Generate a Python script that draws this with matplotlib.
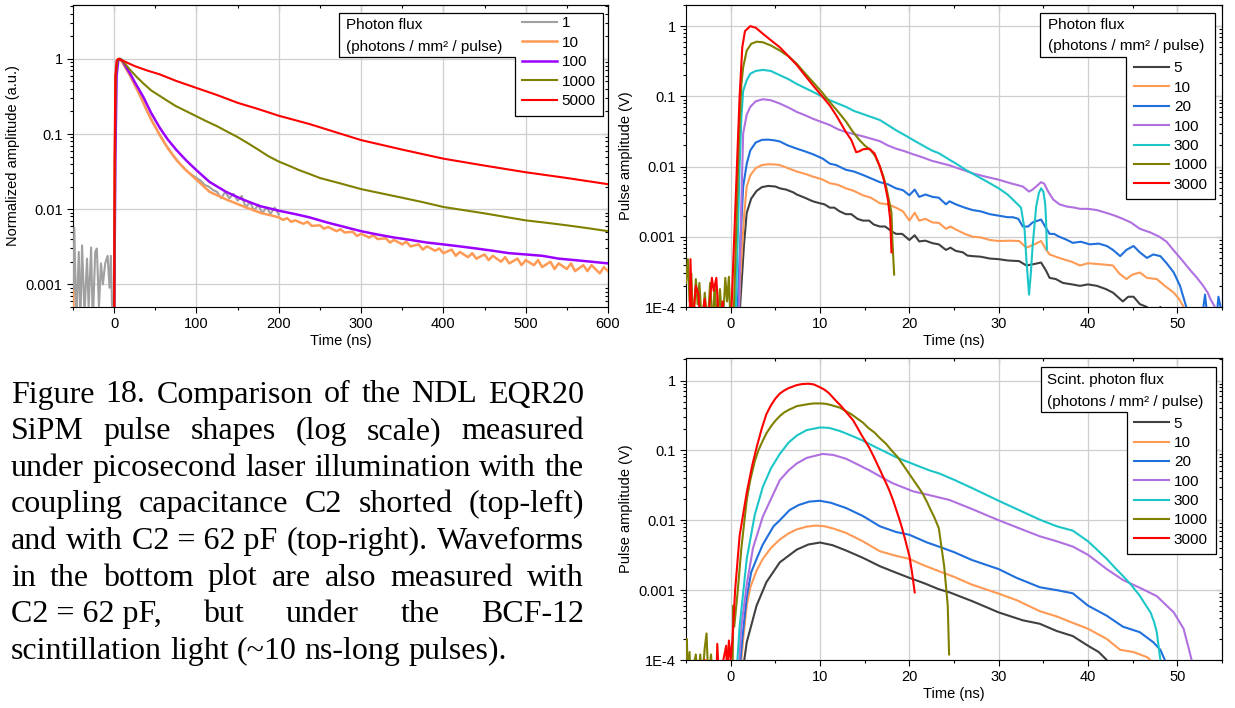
import numpy as np
import matplotlib
matplotlib.use("Agg")
import matplotlib.pyplot as plt
from matplotlib.patches import Polygon
from matplotlib.ticker import LogLocator, MultipleLocator, NullFormatter

plt.rcParams['font.family'] = ['Liberation Sans', 'DejaVu Sans']

# ---------------- data: picosecond laser, C2 shorted (top-left) -------------
laser_flux = ["1", "10", "100", "1000", "5000"]
laser_colors = ["#a0a0a0", "#ff9a55", "#9b00ff", "#808000", "#ff0000"]

laser_1 = [(-50, 3e-4), (-48.4, 0.0057), (-46, 3e-4), (-43, 0.0027), (-41, 3e-4), (-39, 0.0033),
           (-36, 4e-4), (-33, 0.0022), (-31, 5e-4), (-28, 0.0031), (-26, 3e-4), (-23, 0.0027),
           (-21, 0.0030), (-18.5, 5e-4), (-16, 0.0019), (-13.7, 0.0010), (-10.9, 0.0019),
           (-8, 0.0024), (-5.6, 9e-4), (-4, 0.0024), (-2, 3e-4), (0, 3e-4), (1, 0.05), (2, 0.6),
           (4, 0.95), (6, 1.0), (10, 0.9), (20, 0.58), (30, 0.35), (40, 0.2), (50, 0.125),
           (60, 0.08), (70, 0.055), (80, 0.04), (90, 0.031), (100, 0.026), (105, 0.024),
           (110, 0.021), (115, 0.020), (120, 0.018), (125, 0.017), (130, 0.014), (135, 0.017),
           (140, 0.014), (145, 0.016), (150, 0.013), (155, 0.015), (160, 0.0105), (165, 0.0125),
           (170, 0.0095), (175, 0.0115), (180, 0.0088), (185, 0.0106), (190, 0.0087),
           (195, 0.0105), (200, 0.0085)]
laser_10 = [(-50, 8e-4), (-49.5, 3e-4), (0, 3e-4), (1, 0.05), (2, 0.6), (4, 0.95), (6, 1.0),
            (10, 0.9), (20, 0.58), (30, 0.35), (35.5, 0.26), (45, 0.155), (55.6, 0.096),
            (65, 0.065), (75.8, 0.045), (86, 0.034), (96, 0.027), (116, 0.017), (136, 0.0135),
            (156, 0.011), (177, 0.009), (200, 0.0078), (205, 0.0072), (210, 0.0076),
            (215, 0.0068), (220, 0.0071), (230, 0.0064), (235, 0.0068), (240, 0.0060),
            (250, 0.0061), (255, 0.0055), (260, 0.0058), (270, 0.0051), (275, 0.0054),
            (280, 0.0049), (290, 0.0050), (295, 0.0044), (300, 0.0047), (310, 0.0042),
            (315, 0.0045), (320, 0.0040), (330, 0.0041), (335, 0.0036), (340, 0.0039),
            (350, 0.0034), (355, 0.0037), (360, 0.0032), (370, 0.0034), (375, 0.0029),
            (380, 0.0032), (390, 0.0028), (395, 0.0030), (400, 0.0026), (410, 0.0029),
            (415, 0.0024), (420, 0.0027), (430, 0.0023), (435, 0.0026), (440, 0.0022),
            (450, 0.0025), (455, 0.0021), (460, 0.0024), (470, 0.0020), (475, 0.0023),
            (480, 0.0019), (490, 0.0022), (495, 0.0018), (500, 0.0021), (510, 0.0018),
            (515, 0.0021), (520, 0.0017), (530, 0.0020), (535, 0.0016), (540, 0.0019),
            (550, 0.0016), (555, 0.0019), (560, 0.0015), (570, 0.0018), (575, 0.0015),
            (580, 0.0018), (590, 0.0014), (595, 0.0017), (600, 0.0015)]
laser_100 = [(0, 3e-4), (1.5, 0.05), (3, 0.6), (5, 0.95), (7, 1.0), (10, 0.95), (15, 0.76),
             (20, 0.62), (25, 0.49), (35.5, 0.31), (45, 0.19), (55.6, 0.12), (65, 0.085),
             (75.8, 0.061), (88, 0.044), (100, 0.033), (116, 0.023), (136, 0.017),
             (156, 0.0135), (177, 0.011), (201, 0.0095), (220, 0.0086), (237, 0.0078),
             (260, 0.0066), (280, 0.0058), (300, 0.0051), (320, 0.0046), (340, 0.0042),
             (360, 0.0039), (380, 0.0036), (400, 0.0034), (420, 0.0032), (440, 0.0030),
             (460, 0.0028), (480, 0.0026), (500, 0.0025), (520, 0.0024), (540, 0.0022),
             (560, 0.0021), (580, 0.0020), (600, 0.0019)]
laser_1000 = [(0, 3e-4), (1, 0.05), (2, 0.6), (4, 0.95), (7, 1.0), (10, 0.95), (19, 0.72),
              (27, 0.58), (35.5, 0.47), (45, 0.38), (55.6, 0.32), (65, 0.275), (75, 0.235),
              (88, 0.2), (100, 0.172), (112, 0.148), (125, 0.127), (137, 0.108), (150, 0.091),
              (162, 0.076), (175, 0.062), (187, 0.051), (200, 0.043), (212, 0.038),
              (225, 0.033), (237, 0.0295), (250, 0.026), (262, 0.024), (275, 0.022),
              (300, 0.0185), (325, 0.0162), (350, 0.0142), (375, 0.0124), (400, 0.0107),
              (425, 0.0097), (450, 0.0088), (475, 0.0079), (500, 0.0071), (525, 0.0066),
              (550, 0.0061), (575, 0.0056), (600, 0.0051)]
laser_5000 = [(0, 3e-4), (0.5, 0.05), (1.5, 0.6), (3, 0.95), (5, 1.0), (10, 0.95), (25, 0.80),
              (40, 0.7), (55.6, 0.62), (75, 0.51), (100, 0.41), (125, 0.33), (150, 0.26),
              (175, 0.215), (200, 0.175), (237, 0.136), (270, 0.105), (300, 0.083), (350, 0.062),
              (400, 0.047), (450, 0.038), (500, 0.031), (550, 0.026), (600, 0.0215)]
laser_series = [laser_1, laser_10, laser_100, laser_1000, laser_5000]

# ---------------- data: picosecond laser, C2 = 62 pF (top-right) ------------
flux_62 = ["5", "10", "20", "100", "300", "1000", "3000"]
colors_62 = ["#404040", "#ff9a55", "#1f6fdc", "#b070e0", "#1cc6c8", "#808000", "#ff0000"]

las62_5 = [(0.9, 5e-5), (1.2, 2e-4), (1.5, 8e-4), (1.8, 0.0022), (2.3, 0.0035), (2.9, 0.0045),
           (3.5, 0.0051), (4.2, 0.0053), (5.0, 0.0052), (5.5, 0.0049), (6.2, 0.0047),
           (7.0, 0.0043), (7.4, 0.0040), (8.3, 0.0036), (9.2, 0.0032), (10.0, 0.0030),
           (10.5, 0.0029), (11.1, 0.0026), (11.6, 0.0026), (12.2, 0.0023), (12.9, 0.0021),
           (13.5, 0.0021), (14.2, 0.0018), (14.8, 0.0017), (15.5, 0.0017), (16.0, 0.0015),
           (16.7, 0.0014), (17.3, 0.0014), (18.0, 0.0012), (18.5, 0.0011), (19.2, 0.0011),
           (20.0, 0.00090), (20.6, 0.00105), (21.1, 0.00086), (21.8, 0.00088), (22.6, 0.00081),
           (23.3, 0.00078), (24.1, 0.00065), (24.6, 0.00070), (25.2, 0.00063), (26.0, 0.00060),
           (26.5, 0.00054), (27.1, 0.00053), (28.0, 0.00052), (29.0, 0.00049), (30.0, 0.00048),
           (31.0, 0.00046), (32.3, 0.00045), (33.1, 0.00039), (34.0, 0.00041), (34.75, 0.00043),
           (35.3, 0.00033), (35.7, 0.00026), (36.4, 0.00025), (37.2, 0.00022), (38.2, 0.00021),
           (39.1, 0.00020), (40.0, 0.00021), (41.0, 0.00020), (42.0, 0.00018), (42.8, 0.00016),
           (43.9, 0.00012), (44.5, 0.00014), (45.1, 0.00014), (45.8, 0.00011), (46.6, 0.00010),
           (47.3, 8e-5), (48.1, 1.0e-4), (48.5, 6e-5)]
las62_10 = [(0.8, 5e-5), (1.1, 3e-4), (1.5, 0.002), (1.8, 0.0052), (2.2, 0.0075), (2.8, 0.0095),
            (3.5, 0.0105), (4.2, 0.0108), (5.0, 0.0107), (5.5, 0.0105), (6.4, 0.0095),
            (7.4, 0.0085), (8.3, 0.0079), (9.2, 0.0072), (10.2, 0.0066), (11.1, 0.0058),
            (12.0, 0.0055), (12.9, 0.0049), (13.8, 0.0045), (14.8, 0.0039), (15.7, 0.0036),
            (16.7, 0.0030), (17.6, 0.0029), (18.5, 0.0026), (19.3, 0.0023), (20.0, 0.0017),
            (20.6, 0.0022), (21.1, 0.0017), (21.8, 0.0018), (22.6, 0.0016), (23.3, 0.00158),
            (24.1, 0.0013), (24.6, 0.0014), (25.2, 0.00127), (26.2, 0.0011), (27.1, 0.0010),
            (28.0, 0.00098), (29.0, 0.00090), (30.0, 0.00087), (31.2, 0.00088), (32.3, 0.00087),
            (33.1, 0.00070), (34.0, 0.00078), (34.75, 0.00087), (35.3, 0.00066), (35.7, 0.00056),
            (36.4, 0.00052), (37.2, 0.00048), (38.2, 0.00044), (39.1, 0.00039), (40.0, 0.00042),
            (41.0, 0.00041), (42.0, 0.00040), (42.8, 0.00039), (43.5, 0.00030), (44.3, 0.00025),
            (45.0, 0.00029), (45.8, 0.00031), (46.6, 0.00026), (47.7, 0.00025), (48.6, 0.00020),
            (49.6, 0.00016), (50.2, 0.00013), (50.7, 0.00010), (51.0, 6e-5)]
las62_20 = [(0.7, 5e-5), (1.0, 5e-4), (1.4, 0.0052), (1.8, 0.011), (2.2, 0.017), (2.8, 0.022),
            (3.5, 0.024), (4.2, 0.0242), (5.0, 0.0235), (5.5, 0.0228), (6.4, 0.020), (7.4, 0.018),
            (8.3, 0.0165), (9.2, 0.015), (10.3, 0.013), (11.1, 0.011), (11.8, 0.0105),
            (12.9, 0.009), (13.8, 0.0085), (14.8, 0.0076), (15.7, 0.0068), (16.7, 0.006),
            (17.6, 0.0056), (18.5, 0.0049), (19.3, 0.0046), (20.0, 0.0039), (20.6, 0.0047),
            (21.1, 0.0037), (21.8, 0.0040), (22.6, 0.0037), (23.3, 0.0036), (24.1, 0.0029),
            (24.5, 0.0032), (25.2, 0.0029), (26.2, 0.0026), (27.1, 0.0024), (28.0, 0.0023),
            (29.0, 0.0021), (30.0, 0.0020), (31.0, 0.0019), (31.6, 0.0019), (32.2, 0.0018),
            (32.7, 0.0014), (33.3, 0.0014), (33.8, 0.0016), (34.75, 0.00176), (35.2, 0.0014),
            (35.7, 0.0011), (36.2, 0.0011), (36.8, 0.0010), (37.5, 0.00092), (38.3, 0.00082),
            (39.2, 0.00085), (40.2, 0.00078), (41.2, 0.00080), (42.1, 0.00074), (42.8, 0.00065),
            (43.6, 0.00053), (44.3, 0.00065), (45.1, 0.00074), (45.8, 0.00060), (46.6, 0.00050),
            (47.3, 0.00056), (48.1, 0.00053), (48.8, 0.00042), (49.6, 0.00031), (50.3, 0.00020),
            (51.0, 0.00010), (51.4, 5e-5), (52.6, 5e-5), (53.1, 1.5e-4), (53.5, 5e-5),
            (54.3, 5e-5), (54.6, 1.4e-4), (55.0, 8e-5)]
las62_100 = [(0.9, 5e-5), (1.1, 0.001), (1.4, 0.03), (1.8, 0.055), (2.2, 0.071), (2.8, 0.085),
             (3.6, 0.091), (4.5, 0.088), (5.5, 0.079), (6.5, 0.069), (7.4, 0.060), (8.3, 0.054),
             (9.2, 0.048), (10.2, 0.043), (11.1, 0.039), (12.0, 0.034), (12.9, 0.031),
             (13.8, 0.029), (14.8, 0.027), (15.7, 0.025), (16.7, 0.023), (17.6, 0.020),
             (18.5, 0.018), (19.5, 0.0165), (20.4, 0.015), (21.5, 0.0135), (22.5, 0.0121),
             (23.3, 0.0114), (24.5, 0.0104), (25.5, 0.0094), (26.3, 0.0087), (27.1, 0.0080),
             (28.5, 0.0072), (30.0, 0.0065), (31.3, 0.0058), (32.7, 0.0052), (33.4, 0.0044),
             (33.8, 0.0047), (34.2, 0.0052), (34.75, 0.0060), (35.1, 0.0057), (35.5, 0.0045),
             (36.1, 0.0034), (36.8, 0.0029), (37.6, 0.0027), (38.5, 0.0026), (39.1, 0.0025),
             (40.0, 0.0025), (41.0, 0.0024), (42.0, 0.0022), (43.0, 0.0020), (43.9, 0.0018),
             (44.8, 0.0016), (45.8, 0.0013), (47.0, 0.00115), (48.0, 0.0010), (48.8, 0.00085),
             (49.5, 0.00066), (50.5, 0.00047), (51.4, 0.00034), (52.2, 0.00026), (52.9, 0.00020),
             (53.4, 0.00016), (53.7, 0.00013), (54.2, 0.0001), (54.5, 5e-5)]
las62_300 = [(0.5, 5e-5), (0.8, 0.001), (1.0, 0.01), (1.2, 0.05), (1.4, 0.12), (1.8, 0.17),
             (2.2, 0.21), (2.8, 0.23), (3.6, 0.238), (4.5, 0.23), (5.5, 0.20), (6.5, 0.175),
             (7.4, 0.15), (8.3, 0.132), (9.2, 0.116), (10.2, 0.10), (11.1, 0.088), (12.0, 0.079),
             (12.9, 0.071), (13.8, 0.062), (14.8, 0.056), (15.7, 0.051), (16.7, 0.046),
             (17.6, 0.039), (18.5, 0.033), (19.5, 0.028), (20.4, 0.024), (21.5, 0.020),
             (22.5, 0.017), (23.3, 0.0155), (24.5, 0.0125), (25.5, 0.0105), (26.3, 0.0090),
             (27.1, 0.0079), (28.5, 0.0063), (30.0, 0.0049), (31.0, 0.0040), (31.9, 0.0031),
             (32.5, 0.0026), (32.9, 0.00127), (33.1, 0.00048), (33.4, 0.00015), (33.6, 0.0003),
             (33.8, 0.00074), (34.2, 0.0027), (34.5, 0.0042), (34.75, 0.0049), (35.0, 0.0044),
             (35.2, 0.0030), (35.3, 0.0018), (35.4, 0.00066)]
las62_1000 = [(-5.0, 2.2e-4), (-4.8, 4.8e-4), (-4.6, 1.2e-4), (-4.4, 3e-4), (-4.2, 5e-5),
              (-3.9, 2.5e-4), (-3.7, 1.1e-4), (-3.5, 2.2e-4), (-3.2, 5e-5), (-2.9, 1.6e-4),
              (-2.6, 5e-5), (-2.3, 2.2e-4), (-2.0, 5e-5), (-1.8, 2.1e-4), (-1.5, 5e-5),
              (-1.2, 1.8e-4), (-0.9, 5e-5), (-0.6, 2.6e-4), (-0.4, 1.2e-4), (-0.2, 2.7e-4),
              (0.0, 5e-5), (0.3, 5e-5), (0.6, 0.001), (0.9, 0.02), (1.2, 0.15), (1.4, 0.26),
              (1.8, 0.45), (2.3, 0.56), (2.9, 0.60), (3.6, 0.59), (4.5, 0.53), (5.5, 0.45),
              (6.5, 0.37), (7.4, 0.29), (8.3, 0.215), (9.2, 0.16), (10.2, 0.115), (11.1, 0.083),
              (12.0, 0.061), (12.9, 0.044), (13.7, 0.031), (14.4, 0.024), (15.0, 0.020),
              (15.7, 0.017), (16.2, 0.014), (16.7, 0.010), (17.1, 0.0072), (17.4, 0.0052),
              (17.7, 0.0034), (18.0, 0.0022), (18.1, 0.0009), (18.3, 0.00029)]
las62_3000 = [(-4.6, 5e-5), (-4.5, 4.8e-4), (-4.3, 5e-5), (-3.9, 2e-4), (-3.6, 1.5e-4),
              (-3.4, 5e-5), (-2.9, 1.3e-4), (-2.6, 5e-5), (-2.1, 2.6e-4), (-1.9, 1.7e-4),
              (-1.6, 2.6e-4), (-1.3, 5e-5), (-0.9, 1.2e-4), (-0.6, 5e-5), (0.1, 1e-4),
              (0.4, 0.001), (0.7, 0.01), (1.0, 0.1), (1.3, 0.5), (1.6, 0.85), (2.2, 1.0),
              (2.8, 0.95), (3.6, 0.78), (4.5, 0.63), (5.5, 0.50), (6.5, 0.37), (7.4, 0.28),
              (8.3, 0.20), (9.2, 0.144), (10.3, 0.098), (11.1, 0.074), (11.8, 0.054),
              (12.4, 0.040), (12.9, 0.031), (13.5, 0.024), (14.05, 0.016), (14.4, 0.0165),
              (14.8, 0.0176), (15.5, 0.018), (16.1, 0.0154), (16.7, 0.010), (17.2, 0.0061),
              (17.6, 0.0034), (17.85, 0.0018), (17.95, 0.00088), (18.0, 0.0006)]
las62_series = [las62_5, las62_10, las62_20, las62_100, las62_300, las62_1000, las62_3000]

# ---------------- data: BCF-12 scintillation light (bottom) ------------------
scint_5 = [(1.2, 5e-5), (1.8, 1.8e-4), (2.9, 6e-4), (4.0, 0.0013), (5.5, 0.0025), (7.4, 0.0038),
           (8.7, 0.0045), (10.0, 0.0048), (11.4, 0.0044), (12.9, 0.0037), (14.8, 0.0029),
           (16.7, 0.0022), (18.4, 0.0018), (20.0, 0.0015), (21.7, 0.00125), (23.3, 0.00103),
           (24.5, 0.00093), (27.1, 0.00069), (30.0, 0.00048), (32.7, 0.00037), (34.6, 0.00033),
           (36.5, 0.00026), (38.3, 0.00022), (40.0, 0.00016), (41.2, 0.00013), (42.1, 0.0001),
           (42.3, 8e-5)]
scint_10 = [(1.0, 5e-5), (1.4, 2e-4), (1.8, 6e-4), (2.2, 0.0011), (2.9, 0.0019), (3.6, 0.0028),
            (4.5, 0.0040), (5.5, 0.0053), (6.5, 0.0065), (7.4, 0.0074), (8.5, 0.0081),
            (9.6, 0.0084), (10.5, 0.0082), (11.5, 0.0076), (12.9, 0.0066), (14.8, 0.0050),
            (16.7, 0.0036), (18.5, 0.0031), (20.0, 0.0028), (21.5, 0.0023), (23.3, 0.00187),
            (25.0, 0.00155), (27.0, 0.0012), (30.0, 0.00089), (32.0, 0.00072), (34.6, 0.0005),
            (36.5, 0.00042), (38.3, 0.00034), (40.0, 0.00028), (42.1, 0.0002), (43.6, 0.00014),
            (45.1, 0.00013), (46.6, 0.00011), (47.0, 0.0001), (47.3, 8e-5)]
scint_20 = [(0.9, 5e-5), (1.3, 2e-4), (1.8, 8e-4), (2.3, 0.0018), (2.9, 0.0028), (3.6, 0.0045),
            (4.8, 0.0082), (5.5, 0.010), (6.6, 0.014), (7.6, 0.0165), (8.8, 0.0185), (10.0, 0.019),
            (11.2, 0.0178), (12.9, 0.015), (14.8, 0.0115), (16.7, 0.0082), (18.5, 0.0068),
            (20.0, 0.0062), (22.0, 0.0048), (23.3, 0.0042), (25.0, 0.0035), (27.0, 0.0027),
            (30.0, 0.0020), (32.0, 0.0015), (34.6, 0.0011), (36.5, 0.001), (38.3, 0.0009),
            (40.0, 0.0006), (42.1, 0.00043), (43.9, 0.0003), (45.8, 0.00025), (47.3, 0.00018),
            (48.1, 0.00014), (48.6, 0.0001), (48.8, 7e-5)]
scint_100 = [(0.8, 5e-5), (1.2, 3e-4), (1.8, 0.0012), (2.5, 0.004), (3.6, 0.0113), (4.5, 0.02),
             (5.5, 0.0375), (6.5, 0.052), (7.4, 0.065), (8.5, 0.078), (10.3, 0.089),
             (11.5, 0.086), (12.9, 0.076), (14.2, 0.063), (15.5, 0.052), (16.8, 0.042),
             (18.1, 0.034), (20.4, 0.026), (22.5, 0.0225), (24.5, 0.0195), (27.0, 0.0145),
             (30.0, 0.010), (32.5, 0.0075), (34.6, 0.0059), (36.5, 0.005), (38.3, 0.0042),
             (40.0, 0.0032), (42.1, 0.0020), (43.9, 0.0014), (45.8, 0.00108), (47.7, 0.00082),
             (49.6, 0.00048), (50.7, 0.00028), (51.2, 0.00016), (51.6, 0.0001), (51.8, 7e-5)]
scint_300 = [(0.6, 5e-5), (1.0, 3e-4), (1.8, 0.0028), (2.7, 0.012), (3.6, 0.030), (4.5, 0.055),
             (5.5, 0.089), (6.5, 0.13), (7.4, 0.163), (8.5, 0.195), (10.0, 0.213), (11.0, 0.21),
             (12.2, 0.19), (13.5, 0.163), (14.8, 0.138), (16.0, 0.115), (17.4, 0.094),
             (18.5, 0.08), (20.0, 0.067), (22.2, 0.052), (23.3, 0.047), (25.0, 0.038),
             (27.0, 0.029), (30.0, 0.019), (32.0, 0.0145), (34.6, 0.0102), (36.5, 0.0082),
             (38.3, 0.0071), (40.0, 0.005), (41.0, 0.0038), (42.1, 0.0028), (43.0, 0.0021),
             (43.9, 0.0016), (44.8, 0.0012), (45.8, 0.00083), (46.5, 0.0006), (47.0, 0.00048),
             (47.4, 0.00035), (47.7, 0.00025), (48.1, 0.0001), (48.2, 7e-5)]
scint_1000 = [(-5.0, 5e-5), (-4.9, 2e-4), (-4.8, 5e-5), (-4.6, 1.3e-4), (-4.5, 5e-5),
              (-3.9, 1.2e-4), (-3.7, 5e-5), (-3.4, 1.2e-4), (-3.2, 5e-5), (-2.9, 1.5e-4),
              (-2.7, 2.4e-4), (-2.5, 5e-5), (-2.2, 1.2e-4), (-2.0, 5e-5), (0.2, 5e-5),
              (0.3, 0.0006), (0.4, 0.0003), (0.8, 0.001), (1.2, 0.004), (1.8, 0.0195),
              (2.2, 0.038), (2.7, 0.07), (3.1, 0.1), (3.6, 0.138), (4.0, 0.175), (4.5, 0.22),
              (5.0, 0.265), (5.5, 0.31), (6.0, 0.35), (6.5, 0.38), (7.4, 0.43), (8.7, 0.46),
              (9.3, 0.47), (10.0, 0.47), (10.6, 0.465), (11.1, 0.45), (12.2, 0.41), (12.8, 0.37),
              (13.5, 0.33), (14.1, 0.29), (14.8, 0.25), (15.4, 0.21), (16.1, 0.18), (16.7, 0.15),
              (17.4, 0.124), (18.0, 0.1), (18.7, 0.08), (19.3, 0.062), (20.0, 0.046),
              (20.5, 0.037), (21.0, 0.03), (21.5, 0.024), (22.0, 0.018), (22.4, 0.014),
              (22.8, 0.011), (23.3, 0.0077), (23.9, 0.0022), (24.3, 0.0006), (24.45, 0.00012)]
scint_3000 = [(-3.0, 5e-5), (-2.9, 1.0e-4), (-2.7, 5e-5), (-1.6, 5e-5), (-1.5, 1.7e-4),
              (-1.3, 5e-5), (-0.5, 1.6e-4), (-0.4, 5e-5), (-0.2, 1.9e-4), (0.0, 1e-4),
              (0.2, 2e-4), (0.5, 0.001), (1.0, 0.006), (1.8, 0.025), (2.4, 0.06), (2.9, 0.11),
              (3.5, 0.21), (4.0, 0.33), (4.5, 0.44), (5.0, 0.55), (5.5, 0.65), (6.0, 0.72),
              (6.5, 0.78), (7.4, 0.86), (8.0, 0.89), (8.7, 0.9), (9.3, 0.88), (10.0, 0.8),
              (10.5, 0.74), (11.0, 0.66), (11.8, 0.51), (12.3, 0.44), (12.8, 0.37), (13.7, 0.27),
              (14.2, 0.21), (14.6, 0.17), (15.5, 0.11), (16.0, 0.082), (16.5, 0.06),
              (17.4, 0.034), (17.8, 0.026), (18.2, 0.019), (18.9, 0.0102), (19.2, 0.0076),
              (19.5, 0.0055), (20.0, 0.0031), (20.3, 0.0018), (20.6, 0.00093)]
scint_series = [scint_5, scint_10, scint_20, scint_100, scint_300, scint_1000, scint_3000]

caption_lines = [
    "Figure 18. Comparison of the NDL EQR20",
    "SiPM pulse shapes (log scale) measured",
    "under picosecond laser illumination with the",
    "coupling capacitance C2 shorted (top-left)",
    "and with C2\u00a0=\u00a062\u00a0pF (top-right). Waveforms",
    "in the bottom plot are also measured with",
    "C2\u00a0=\u00a062\u00a0pF, but under the BCF-12",
    "scintillation light (~10 ns-long pulses).",
]

W, H = 1235, 708
TICK_FS = 10.5
LEG_FS = 11


def px_axes(fig, left, top, right, bottom):
    return fig.add_axes([left / W, 1 - bottom / H, (right - left) / W, (bottom - top) / H])


def style(ax, xlim, ylim, xmaj, xmin, yticks, ylabels, ylabel):
    ax.set_yscale('log')
    ax.set_xlim(xlim)
    ax.set_ylim(ylim)
    ax.xaxis.set_major_locator(MultipleLocator(xmaj))
    ax.xaxis.set_minor_locator(MultipleLocator(xmin))
    ax.set_yticks(yticks, ylabels)
    ax.yaxis.set_minor_locator(LogLocator(base=10, subs=np.arange(2, 10)))
    ax.yaxis.set_minor_formatter(NullFormatter())
    ax.grid(True, which='major', color='#cfcfcf', lw=0.9, zorder=0)
    ax.tick_params(which='both', direction='out', labelsize=TICK_FS, width=0.8)
    ax.tick_params(which='major', length=4)
    ax.tick_params(which='minor', length=2)
    for s in ax.spines.values():
        s.set_linewidth(0.8)
    top = ax.secondary_xaxis('top')
    top.xaxis.set_major_locator(MultipleLocator(xmaj))
    top.xaxis.set_minor_locator(MultipleLocator(xmin))
    top.tick_params(which='both', direction='in', labeltop=False, width=0.8)
    top.tick_params(which='major', length=4)
    top.tick_params(which='minor', length=2)
    right = ax.secondary_yaxis('right')
    right.tick_params(which='both', direction='in', labelright=False, width=0.8)
    right.tick_params(which='major', length=4)
    right.tick_params(which='minor', length=2)
    ax.set_xlabel("Time (ns)", fontsize=TICK_FS, labelpad=2)
    ax.set_ylabel(ylabel, fontsize=TICK_FS, labelpad=4)


def legend_box(ax, corners, title1, title2, tx, ty1, ty2, handles, labels, lx, ly):
    (x0, x1, x2), (y0, y1, y2) = corners
    poly = Polygon([(x0, y0), (x2, y0), (x2, y2), (x1, y2), (x1, y1), (x0, y1)],
                   closed=True, transform=ax.transAxes, facecolor='white',
                   edgecolor='black', lw=0.9, zorder=5)
    ax.add_patch(poly)
    ax.text(tx, ty1, title1, transform=ax.transAxes, fontsize=LEG_FS, va='center', zorder=6)
    ax.text(tx, ty2, title2, transform=ax.transAxes, fontsize=LEG_FS, va='center', zorder=6)
    leg = ax.legend(handles, labels, loc='upper left', bbox_to_anchor=(lx, ly),
                    frameon=False, fontsize=LEG_FS, handlelength=2.3, handletextpad=0.3,
                    labelspacing=0.35, borderpad=0, borderaxespad=0)
    leg.set_zorder(6)


fig = plt.figure(figsize=(W / 100, H / 100), dpi=100)

# top-left
ax1 = px_axes(fig, 73, 5, 608, 307)
h1 = []
for pts, col in zip(laser_series, laser_colors):
    t, v = np.array(pts).T
    lw = 1.8 if col in ("#ff9a55", "#9b00ff") else 1.5
    h1.append(ax1.plot(t, v, color=col, lw=lw, zorder=3)[0])
style(ax1, (-50, 600), (5e-4, 5.2), 100, 50, [0.001, 0.01, 0.1, 1],
      ["0.001", "0.01", "0.1", "1"], "Normalized amplitude (a.u.)")
legend_box(ax1, ((0.497, 0.826, 0.991), (0.9735, 0.828, 0.632)),
           "Photon flux", "(photons / mm\u00b2 / pulse)", 0.510, 0.934, 0.861,
           h1, laser_flux, 0.839, 0.962)

# top-right
ax2 = px_axes(fig, 686, 5, 1222, 307)
h2 = []
for pts, col in zip(las62_series, colors_62):
    t, v = np.array(pts).T
    h2.append(ax2.plot(t, v, color=col, lw=1.5, zorder=3)[0])
style(ax2, (-5, 55), (1e-4, 2.0), 10, 5, [1e-4, 0.001, 0.01, 0.1, 1],
      ["1E-4", "0.001", "0.01", "0.1", "1"], "Pulse amplitude (V)")
legend_box(ax2, ((0.660, 0.821, 0.987), (0.9735, 0.828, 0.358)),
           "Photon flux", "(photons / mm\u00b2 / pulse)", 0.675, 0.934, 0.864,
           h2, flux_62, 0.836, 0.813)

# bottom-right
ax3 = px_axes(fig, 686, 358, 1222, 660)
h3 = []
for pts, col in zip(scint_series, colors_62):
    t, v = np.array(pts).T
    h3.append(ax3.plot(t, v, color=col, lw=1.5, zorder=3)[0])
style(ax3, (-5, 55), (1e-4, 2.1), 10, 5, [1e-4, 0.001, 0.01, 0.1, 1],
      ["1E-4", "0.001", "0.01", "0.1", "1"], "Pulse amplitude (V)")
legend_box(ax3, ((0.662, 0.823, 0.989), (0.970, 0.821, 0.351)),
           "Scint. photon flux", "(photons / mm\u00b2 / pulse)", 0.674, 0.927, 0.854,
           h3, flux_62, 0.836, 0.806)

# justified caption
CAP_FS = 23
renderer = fig.canvas.get_renderer()
x_left, x_right, y_first, step = 11, 584, 395, 36.6
for i, line in enumerate(caption_lines):
    y = 1 - (y_first + i * step) / H
    words = line.split(' ')
    texts = [fig.text(0, y, w, fontsize=CAP_FS, family=['Liberation Serif', 'DejaVu Serif'],
                      va='center', ha='left') for w in words]
    widths = [t.get_window_extent(renderer).width for t in texts]
    if i < len(caption_lines) - 1 and len(words) > 1:
        gap = (x_right - x_left - sum(widths)) / (len(words) - 1)
    else:
        gap = CAP_FS * 100 / 72 * 0.25
    x = x_left
    for t, w in zip(texts, widths):
        t.set_x(x / W)
        x += w + gap

fig.savefig("out.png", dpi=100)
